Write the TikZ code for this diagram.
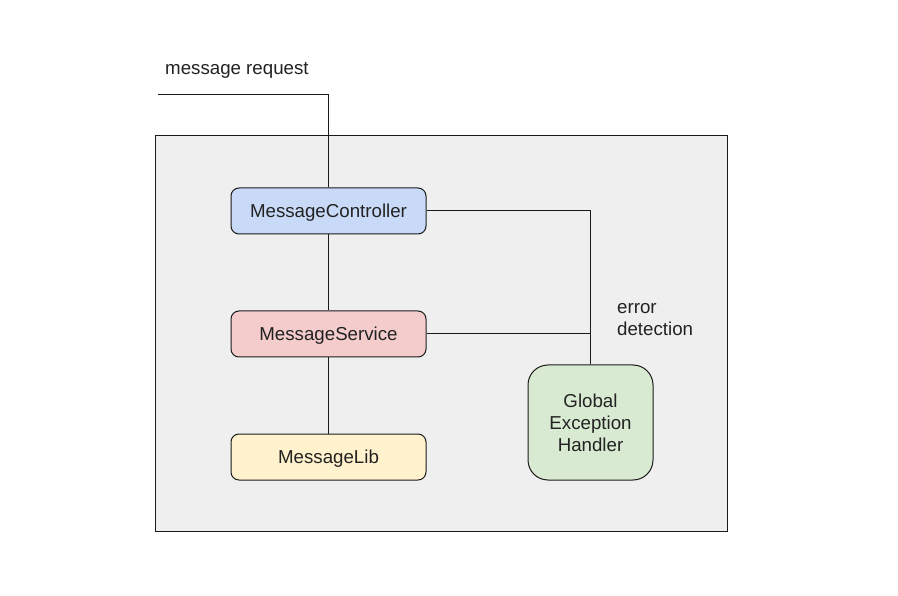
\documentclass[tikz,border=0pt]{standalone}
\usepackage{fontspec}
\setmainfont{Liberation Sans}
\definecolor{bgc}{HTML}{EFEFEF}
\definecolor{ctrlc}{HTML}{C9DAF8}
\definecolor{svcc}{HTML}{F4CCCC}
\definecolor{libc}{HTML}{FFF2CC}
\definecolor{hdlc}{HTML}{D9EAD3}
\definecolor{txtc}{HTML}{222222}
\definecolor{linec}{HTML}{1A1A1A}
\begin{document}
\begin{tikzpicture}[x=1pt,y=-1pt,
  every node/.style={font=\fontsize{18.7}{22}\selectfont, text=txtc},
  comp/.style={draw=linec, line width=1pt, rounded corners=8pt, minimum width=195pt, minimum height=46pt, inner sep=0pt, text height=13.5pt, text depth=0.5pt},
  conn/.style={draw=linec, line width=1pt}]
\useasboundingbox[fill=white] (0,0) rectangle (898,596);
\node[draw=linec, line width=1pt, fill=bgc, minimum width=572pt, minimum height=395pt, inner sep=0pt] (frame) at (441,333.5) {};
\node[comp, fill=ctrlc] (ctrl) at (328.5,211) {MessageController};
\node[comp, fill=svcc] (svc) at (328.5,334) {MessageService};
\node[comp, fill=libc] (lib) at (328.5,457) {MessageLib};
\node[draw=linec, line width=1pt, rounded corners=20pt, fill=hdlc, minimum width=125pt, minimum height=115pt, inner sep=0pt, align=center] (hdl) at (590.5,422.5) {Global\\Exception\\Handler};
\node[anchor=west, inner sep=0pt] (req) at (165,70) {message request};
\node[anchor=north west, inner sep=0pt, align=left] (err) at (617,303) {error\\detection};
\coordinate (start) at (158,95);
\coordinate (bend) at (328.5,95);
\coordinate (jc) at (590.5,211);
\coordinate (js) at (590.5,334);
\draw[conn] (start) -- (bend) -- (ctrl.north);
\draw[conn] (ctrl.south) -- (svc.north);
\draw[conn] (svc.south) -- (lib.north);
\draw[conn] (ctrl.east) -- (jc) -- (hdl.north);
\draw[conn] (svc.east) -- (js);
\end{tikzpicture}
\end{document}
